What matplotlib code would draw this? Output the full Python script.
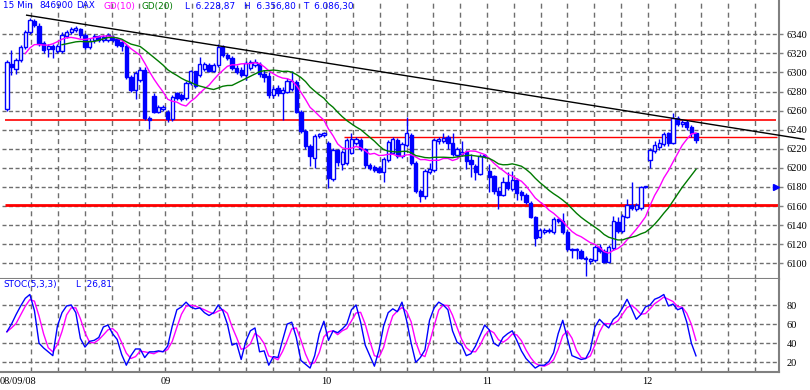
import numpy as np
import pandas as pd
import matplotlib
matplotlib.use("Agg")
import matplotlib.pyplot as plt
from matplotlib.transforms import blended_transform_factory

plt.rcParams['lines.scale_dashes'] = False
plt.rcParams['font.family'] = 'Liberation Serif'

# DAX (846900) 15-min candles, 08/09/08 - 12/09/08, 35 bars per session
opens = [
    6262, 6309, 6304, 6313, 6327, 6342, 6354, 6349, 6331, 6325, 6328, 6322, 6322, 6338, 6342, 6344, 6346, 6339,
    6327, 6334, 6338, 6334, 6334, 6337, 6335, 6332, 6328, 6295, 6282, 6292, 6303, 6252, 6275, 6259, 6262,
    6259, 6251, 6278, 6276, 6273, 6289, 6301, 6297, 6304, 6308, 6302, 6308, 6327, 6318, 6315, 6305, 6303,
    6297, 6305, 6308, 6309, 6298, 6296, 6276, 6284, 6278, 6280, 6283, 6290, 6259, 6239, 6223, 6210, 6233, 6234,
    6226, 6188, 6219, 6204, 6205, 6216, 6226, 6229, 6220, 6203, 6201, 6200, 6196, 6208, 6216, 6229, 6212,
    6224, 6234, 6205, 6176, 6170, 6196, 6198, 6228, 6228, 6232, 6226, 6213, 6214, 6217, 6208, 6202, 6194, 6212,
    6197, 6191, 6176, 6172, 6185, 6178, 6187, 6175, 6172, 6163, 6148, 6128, 6133, 6134, 6133, 6146, 6144,
    6133, 6115, 6114, 6113, 6106, 6102, 6103, 6117, 6113, 6101, 6116, 6143, 6134, 6149, 6161, 6157, 6158, 6180,
    6208, 6218, 6222, 6225, 6236, 6226, 6252, 6246, 6248, 6243, 6236,
]
highs = [
    6313, 6323, 6315, 6329, 6344, 6356.8, 6356, 6352, 6333, 6330, 6330, 6330, 6342, 6344, 6348, 6349, 6347, 6341,
    6336, 6340, 6339, 6339, 6341, 6339, 6336, 6333, 6330, 6297, 6302, 6306, 6306, 6254, 6278, 6266, 6266,
    6261, 6276, 6280, 6278, 6291, 6303, 6302, 6316, 6311, 6310, 6310, 6330, 6329, 6320, 6317, 6308, 6306,
    6312, 6313, 6314, 6311, 6303, 6300, 6286, 6287, 6285, 6294, 6302, 6292, 6261, 6241, 6225, 6235, 6237, 6238,
    6228, 6221, 6220, 6219, 6231, 6236, 6232, 6231, 6221, 6205, 6203, 6202, 6211, 6229, 6232, 6231, 6227,
    6253, 6236, 6207, 6178, 6199, 6205, 6231, 6232, 6236, 6234, 6236, 6222, 6228, 6219, 6215, 6204, 6214, 6215,
    6204, 6193, 6180, 6190, 6196, 6197, 6189, 6177, 6174, 6165, 6150, 6137, 6137, 6137, 6148, 6147, 6153,
    6135, 6116, 6116, 6115, 6108, 6106, 6119, 6120, 6115, 6119, 6150, 6148, 6152, 6167, 6185, 6163, 6181, 6181,
    6221, 6228, 6230, 6238, 6238, 6257, 6254, 6250, 6250, 6245, 6237,
]
lows = [
    6260, 6297, 6298, 6311, 6325, 6340, 6348, 6328, 6320, 6316, 6315, 6320, 6320, 6336, 6340, 6342, 6336, 6325,
    6325, 6331, 6332, 6332, 6332, 6332, 6327, 6322, 6293, 6280, 6272, 6290, 6250, 6241, 6257, 6257, 6260,
    6248, 6249, 6271, 6270, 6271, 6287, 6284, 6295, 6302, 6300, 6300, 6306, 6316, 6313, 6303, 6298, 6295,
    6292, 6303, 6306, 6295, 6290, 6273, 6273, 6275, 6250, 6278, 6281, 6257, 6237, 6220, 6202, 6200, 6231, 6232,
    6179, 6186, 6202, 6198, 6203, 6214, 6224, 6218, 6200, 6198, 6196, 6195, 6185, 6206, 6214, 6210, 6210,
    6222, 6203, 6174, 6164, 6167, 6194, 6196, 6225, 6226, 6220, 6212, 6211, 6212, 6199, 6190, 6187, 6192, 6210,
    6175, 6173, 6157, 6170, 6177, 6176, 6166, 6166, 6162, 6147, 6118, 6126, 6131, 6132, 6131, 6142, 6131,
    6113, 6106, 6104, 6104, 6086.3, 6099, 6101, 6111, 6100, 6100, 6114, 6132, 6132, 6147, 6156, 6155, 6156, 6179,
    6200, 6216, 6219, 6223, 6223, 6225, 6244, 6243, 6240, 6232, 6226,
]
closes = [
    6311, 6306, 6313, 6327, 6342, 6355, 6350, 6330, 6324, 6328, 6325, 6328, 6339, 6342, 6346, 6347, 6339, 6327,
    6333, 6338, 6334, 6337, 6339, 6334, 6329, 6328, 6295, 6282, 6299, 6303, 6252, 6250, 6259, 6264, 6264,
    6251, 6274, 6273, 6272, 6289, 6301, 6286, 6309, 6309, 6302, 6308, 6327, 6318, 6315, 6305, 6300, 6297,
    6310, 6311, 6311, 6298, 6295, 6276, 6283, 6278, 6282, 6291, 6291, 6259, 6239, 6223, 6212, 6233, 6235, 6236,
    6189, 6219, 6206, 6217, 6229, 6230, 6230, 6220, 6203, 6200, 6198, 6196, 6209, 6227, 6230, 6212, 6225,
    6236, 6205, 6176, 6170, 6197, 6199, 6229, 6230, 6231, 6226, 6214, 6220, 6217, 6207, 6204, 6196, 6212, 6213,
    6190, 6176, 6172, 6185, 6179, 6187, 6174, 6172, 6164, 6149, 6127, 6135, 6135, 6135, 6146, 6144, 6133,
    6115, 6114, 6115, 6106, 6104, 6104, 6117, 6113, 6101, 6117, 6144, 6134, 6150, 6161, 6158, 6161, 6180, 6180.5,
    6219, 6224, 6226, 6235, 6226, 6252, 6246, 6248, 6243, 6236, 6228.87,
]
# STOC(5,3,3) %K
stoch_k = [
    52, 60, 70, 79, 87, 91, 74, 40, 35, 31, 27, 58, 72, 79, 80, 72, 45, 36, 42, 43,
    46, 57, 59, 50, 44, 28, 17, 27, 34, 34, 25, 31, 31, 32, 31, 37, 58, 75, 78, 83,
    78, 76, 77, 72, 69, 72, 80, 74, 60, 38, 40, 23, 42, 53, 56, 31, 32, 17, 26, 25,
    43, 60, 62, 46, 22, 18, 14, 27, 50, 63, 43, 53, 51, 55, 60, 75, 80, 62, 38, 27,
    16, 33, 58, 72, 76, 73, 83, 64, 40, 20, 25, 33, 64, 77, 83, 80, 75, 53, 41, 38,
    27, 29, 37, 48, 59, 54, 40, 37, 46, 50, 53, 43, 32, 24, 19, 14, 17, 17, 21, 30,
    50, 64, 45, 27, 25, 23, 24, 33, 57, 65, 60, 56, 65, 69, 77, 86, 76, 65, 70, 78,
    80, 86, 88, 91, 79, 81, 75, 77, 62, 40, 26.81,
]

price_ticks = list(range(6100, 6341, 20))
stoch_ticks = [20, 40, 60, 80]
day_labels = ['08/09/08', '09', '10', '11', '12']
bars_per_day = 35

# drawn lines: horizontal levels (price, from bar, to bar) and the trend line
levels = [6250, 6232, 6161]
level_from = [-0.4, 73.4, -0.4]
level_to = [167.4, 167.6, 168.1]
level_width = [1.2, 1.0, 2.0]
trend_x = [4.3, 173.5]
trend_y = [6360, 6230]

BLUE = '#0000ff'
PINK = '#ff00ff'
GREEN = '#007a00'
GRID = '#6e6e6e'
W, H = 810, 390

idx = np.arange(len(closes))
df = pd.DataFrame({'o': opens, 'h': highs, 'l': lows, 'c': closes})
ma10 = df['c'].rolling(10, min_periods=5).mean()
ma20 = df['c'].rolling(20, min_periods=13).mean()
k = pd.Series(stoch_k)
d = k.rolling(3, min_periods=1).mean()

fig = plt.figure(figsize=(W / 100, H / 100), dpi=100)
ax = fig.add_axes([0, 1 - 279.3 / H, 779 / W, 279.3 / H])
ax2 = fig.add_axes([0, 1 - 371.7 / H, 779 / W, (371.7 - 279.3) / H])

xmin, xmax = -1.5, 168.07
for a in (ax, ax2):
    a.set_xlim(xmin, xmax)
    a.set_xticks([])
    for s in ('top', 'left'):
        a.spines[s].set_visible(False)
    for s in ('right', 'bottom'):
        a.spines[s].set_color('#808080')
        a.spines[s].set_linewidth(1.5)
    a.yaxis.tick_right()
    # vertical grid: six cells per session
    for g in range(1, 29):
        a.axvline(g * bars_per_day / 6 - 0.5, color=GRID, lw=1, ls=(0, (3.6, 2.9)), zorder=0)

ax.set_ylim(6083.2, 6375.9)
ax2.set_ylim(10.2, 106.9)
ax.hlines(price_ticks, -1.06, xmax, color=GRID, lw=1, linestyles=[(0, (2.9, 1.8))], zorder=0)
ax2.hlines(stoch_ticks, -1.06, xmax, color=GRID, lw=1, linestyles=[(0, (2.9, 1.8))], zorder=0)

ax.set_yticks(price_ticks)
ax.tick_params(axis='y', length=2.9, width=1, color='#808080', pad=2.6, labelsize=7.5)
ax2.set_yticks(stoch_ticks)
ax2.tick_params(axis='y', length=0, pad=5.6, labelsize=7.5)

# levels and trend line
for lv, x0, x1, lw in zip(levels, level_from, level_to, level_width):
    ax.hlines(lv, x0, x1, color='#ff0000', lw=lw, zorder=1, clip_on=False)
ax.plot(trend_x, trend_y, color='black', lw=1, zorder=4, clip_on=False)

# candles
up = df['c'] >= df['o']
ax.vlines(idx, df['l'], df['h'], color=BLUE, lw=1, zorder=2)
body_lo = np.minimum(df['o'], df['c'])
body_h = np.abs(df['c'] - df['o'])
ax.bar(idx, body_h, bottom=body_lo, width=0.72,
       color=np.where(up, 'white', BLUE), edgecolor=BLUE, linewidth=1, zorder=3)

ax.plot(idx, ma10, color=PINK, lw=1, zorder=5)
ax.plot(idx, ma20, color=GREEN, lw=1, zorder=5)
ax.plot(167.4, 6180, marker='>', color=BLUE, ms=4, clip_on=False, zorder=6)

# stochastic
ax2.plot(idx, k, color=BLUE, lw=1, zorder=3)
ax2.plot(idx, d, color=PINK, lw=1, zorder=2)

# header texts
def px_text(x, y, s, color, size=6.4):
    fig.text(x / W, 1 - y / H, s, color=color, fontsize=size, family='DejaVu Sans',
             ha='left', va='center')

px_text(3, 6, '15 Min', BLUE)
px_text(39, 6, '846900', BLUE)
px_text(76, 6, 'DAX', BLUE)
px_text(103, 6, 'GD(10)', PINK)
px_text(142, 6, 'GD(20)', GREEN)
px_text(185, 6, 'L  6.228,87', BLUE)
px_text(244, 6, 'H  6.356,80', BLUE)
px_text(303, 6, 'T  6.086,30', BLUE)
px_text(3, 285, 'STOC(5,3,3)', BLUE)
px_text(76, 285, 'L  26,81', BLUE)

# session labels under the lower panel
tr = blended_transform_factory(ax2.transData, fig.transFigure)
for i, lbl in enumerate(day_labels):
    xpos = i * bars_per_day - 0.5
    if i == 0:
        ax2.text(xmin, 1 - 381 / H, lbl, transform=tr, ha='left', va='center', fontsize=7.5)
    else:
        ax2.text(xpos, 1 - 381 / H, lbl, transform=tr, ha='center', va='center', fontsize=7.5)

fig.savefig('out.png', dpi=100)
